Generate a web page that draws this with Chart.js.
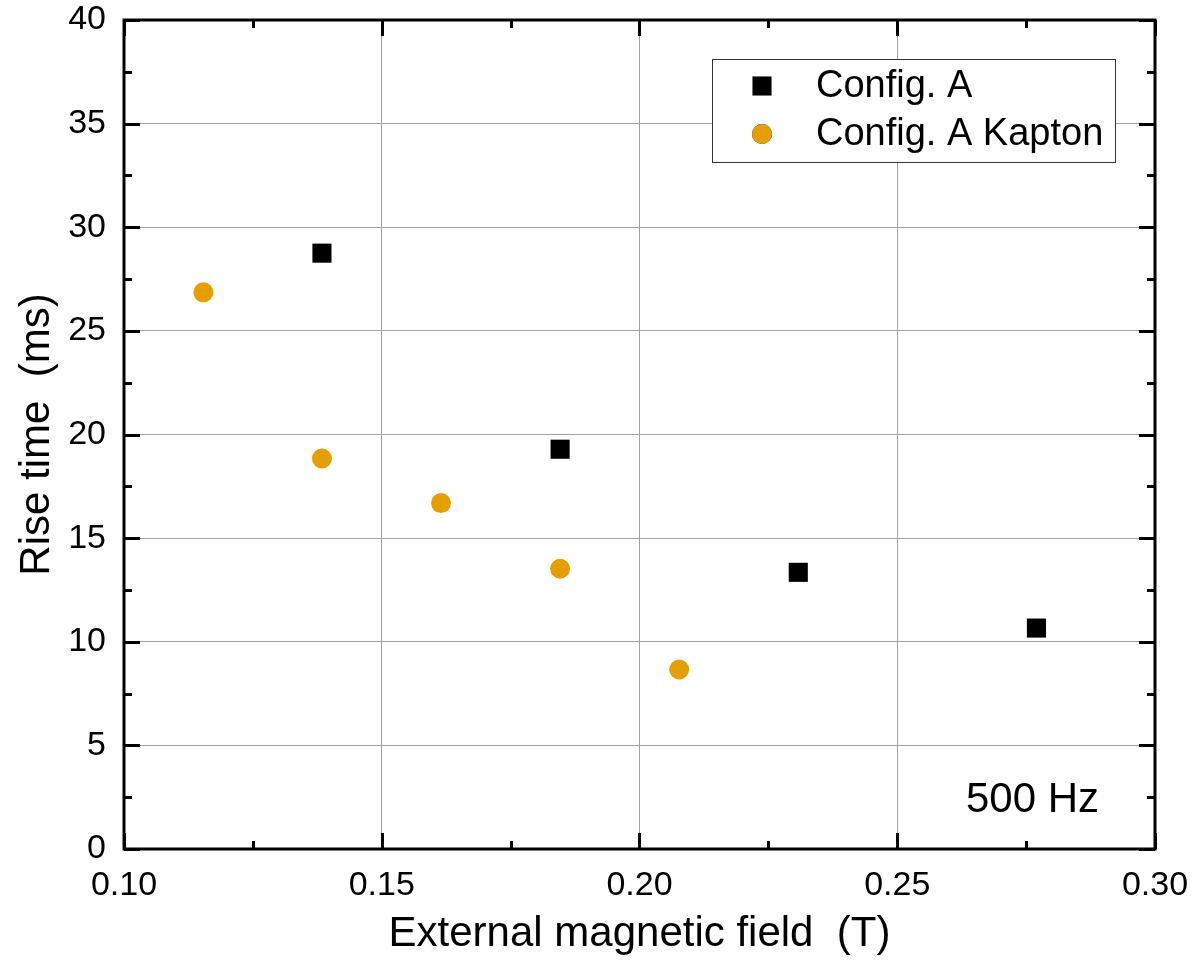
<!DOCTYPE html>
<html>
<head>
<meta charset="utf-8">
<script src="https://cdn.jsdelivr.net/npm/chart.js@4.4.1/dist/chart.umd.min.js"></script>
<style>
  html, body { margin: 0; padding: 0; background: #fff; }
  #wrap { width: 1192px; height: 970px; }
</style>
</head>
<body>
<div id="wrap"><canvas id="riseChart" width="1192" height="970"></canvas></div>
<script>
// Values
const fieldA = [0.1384, 0.1846, 0.2308, 0.2770];
const riseA = [28.75, 19.29, 13.35, 10.66];
const fieldKapton = [0.1154, 0.1384, 0.1615, 0.1846, 0.2077];
const riseKapton = [26.86, 18.84, 16.69, 13.52, 8.66];
const seriesNames = ['Config. A', 'Config. A Kapton'];
const xTicks = [0.10, 0.15, 0.20, 0.25, 0.30];
const yTicks = [0, 5, 10, 15, 20, 25, 30, 35, 40];

const FONT = '"Liberation Sans", Arial, Helvetica, sans-serif';
const ORANGE = '#E69F00';

function toPoints(xs, ys) {
    return xs.map((x, i) => ({ x: x, y: ys[i] }));
}

// frame with inward major/minor ticks on all four sides
const frameTicks = {
    id: 'frameTicks',
    afterDatasetsDraw(chart) {
        const { ctx, chartArea: a, scales: { x, y } } = chart;
        ctx.save();
        ctx.strokeStyle = '#000';
        ctx.lineWidth = 3;
        ctx.lineCap = 'butt';
        const major = 16, minor = 8;
        const xStep = (xTicks[1] - xTicks[0]) / 2;
        for (let v = xTicks[0]; v <= xTicks[xTicks.length - 1] + 1e-9; v += xStep) {
            const isMajor = xTicks.some(t => Math.abs(t - v) < 1e-9);
            const len = isMajor ? major : minor;
            const px = Math.round(x.getPixelForValue(v)) + 0.5;
            ctx.beginPath();
            ctx.moveTo(px, a.bottom); ctx.lineTo(px, a.bottom - len);
            ctx.moveTo(px, a.top); ctx.lineTo(px, a.top + len);
            ctx.stroke();
        }
        const yStep = (yTicks[1] - yTicks[0]) / 2;
        for (let v = yTicks[0]; v <= yTicks[yTicks.length - 1] + 1e-9; v += yStep) {
            const isMajor = yTicks.some(t => Math.abs(t - v) < 1e-9);
            const len = isMajor ? major : minor;
            const py = Math.round(y.getPixelForValue(v)) + 0.5;
            ctx.beginPath();
            ctx.moveTo(a.left, py); ctx.lineTo(a.left + len, py);
            ctx.moveTo(a.right, py); ctx.lineTo(a.right - len, py);
            ctx.stroke();
        }
        ctx.strokeRect(a.left, a.top, a.right - a.left, a.bottom - a.top);
        ctx.restore();
    }
};

// boxed legend in the upper right and the frequency note
const boxLegend = {
    id: 'boxLegend',
    afterDraw(chart) {
        const { ctx, chartArea: a } = chart;
        ctx.save();
        const bx = a.right - 443, by = a.top + 39, bw = 403, bh = 103;
        ctx.fillStyle = '#fff';
        ctx.fillRect(bx, by, bw, bh);
        ctx.strokeStyle = '#333';
        ctx.lineWidth = 1;
        ctx.strokeRect(bx + 0.5, by + 0.5, bw, bh);
        ctx.font = '38px ' + FONT;
        ctx.textBaseline = 'middle';
        ctx.textAlign = 'left';
        chart.data.datasets.forEach((ds, i) => {
            const cy = by + 27 + i * 48;
            Chart.helpers.drawPoint(ctx, {
                pointStyle: ds.pointStyle,
                radius: ds.pointRadius,
                rotation: 0,
                borderWidth: 0
            }, bx + 50, cy);
            ctx.fillStyle = ds.backgroundColor;
            ctx.fill();
            ctx.fillStyle = '#000';
            ctx.fillText(ds.label, bx + 104, cy + 1);
        });
        ctx.font = '42px ' + FONT;
        ctx.textAlign = 'right';
        ctx.textBaseline = 'alphabetic';
        ctx.fillStyle = '#000';
        ctx.fillText('500 Hz', a.right - 56, a.bottom - 37);
        ctx.restore();
    }
};

const ctx = document.getElementById('riseChart').getContext('2d');
const riseChart = new Chart(ctx, {
    type: 'scatter',
    data: {
        datasets: [
            {
                label: seriesNames[0],
                data: toPoints(fieldA, riseA),
                pointStyle: 'rect',
                pointRadius: 13.5,
                backgroundColor: '#000',
                borderWidth: 0
            },
            {
                label: seriesNames[1],
                data: toPoints(fieldKapton, riseKapton),
                pointStyle: 'circle',
                pointRadius: 10,
                backgroundColor: ORANGE,
                borderWidth: 0
            }
        ]
    },
    options: {
        responsive: false,
        animation: false,
        devicePixelRatio: 1,
        layout: { padding: { top: 20, right: 37, left: 0, bottom: 0 } },
        plugins: {
            legend: { display: false },
            tooltip: { enabled: false }
        },
        scales: {
            x: {
                type: 'linear',
                min: 0.10,
                max: 0.30,
                afterBuildTicks: axis => { axis.ticks = xTicks.map(v => ({ value: v })); },
                afterFit: axis => {
                    axis.height = 121;
                    axis.paddingLeft = 0;
                    axis.paddingRight = 0;
                },
                grid: { color: '#a0a0a0', lineWidth: 1, drawTicks: false },
                border: { display: false },
                ticks: {
                    padding: 16,
                    color: '#000',
                    font: { family: FONT, size: 34 },
                    maxRotation: 0,
                    callback: v => v.toFixed(2)
                },
                title: {
                    display: true,
                    text: 'External magnetic field  (T)',
                    color: '#000',
                    font: { family: FONT, size: 42 },
                    padding: { top: 0, bottom: 10 }
                }
            },
            y: {
                type: 'linear',
                min: 0,
                max: 40,
                afterBuildTicks: axis => { axis.ticks = yTicks.map(v => ({ value: v })); },
                afterFit: axis => {
                    axis.width = 124;
                    axis.paddingTop = 0;
                    axis.paddingBottom = 0;
                },
                grid: { color: '#a0a0a0', lineWidth: 1, drawTicks: false },
                border: { display: false },
                ticks: {
                    padding: 18,
                    color: '#000',
                    font: { family: FONT, size: 34 }
                },
                title: {
                    display: true,
                    text: 'Rise time  (ms)',
                    color: '#000',
                    font: { family: FONT, size: 42 },
                    padding: { top: 12, bottom: 0 }
                }
            }
        }
    },
    plugins: [frameTicks, boxLegend]
});
</script>
</body>
</html>
